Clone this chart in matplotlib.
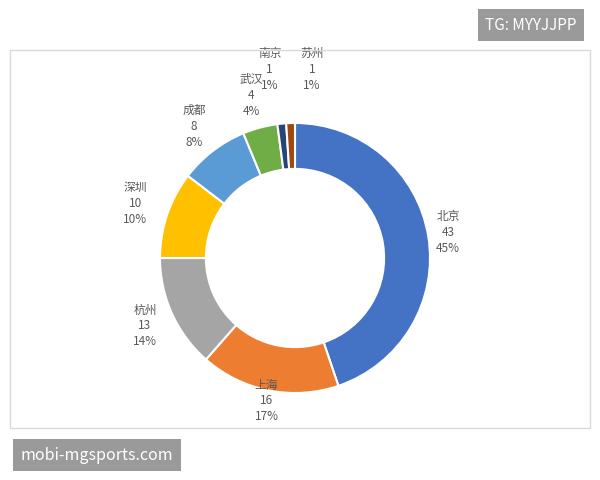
import matplotlib
matplotlib.use("Agg")
import matplotlib.pyplot as plt
import numpy as np

plt.rcParams['font.family'] = ['Noto Sans CJK SC', 'DejaVu Sans']

cities = ['北京', '上海', '杭州', '深圳', '成都', '武汉', '南京', '苏州']
values = [43, 16, 13, 10, 8, 4, 1, 1]
colors = ['#4472C4', '#ED7D31', '#A5A5A5', '#FFC000', '#5B9BD5', '#70AD47', '#264478', '#9E480E']

fig = plt.figure(figsize=(6, 4.8), dpi=100)
fig.patches.append(plt.Rectangle((10/600, 1-428/480), 580/600, 378/480, transform=fig.transFigure,
                                 fill=False, edgecolor='#D9D9D9', lw=1))
R = 135
ax = fig.add_axes([(295-R)/600, 1-(258+R)/480, 2*R/600, 2*R/480])
wedges, _ = ax.pie(values, colors=colors, startangle=90, counterclock=False, radius=1,
                   wedgeprops=dict(width=0.34, edgecolor='white', linewidth=1.5))
ax.set_xlim(-1, 1); ax.set_ylim(-1, 1); ax.set_aspect('equal')
total = sum(values)
radii = [1.15, 1.08, 1.22, 1.25, 1.23, 1.25, 1.4, 1.4]
offs = [0, 0, 0, 0, 0, 0, -0.05, 0.17]
for w, c, v, r, o in zip(wedges, cities, values, radii, offs):
    a = np.deg2rad((w.theta1 + w.theta2) / 2)
    x, y = r*np.cos(a) + o, r*np.sin(a)
    ax.text(x, y, f"{c}\n{v}\n{round(v/total*100)}%", ha='center', va='center',
            fontsize=8.5, color='#595959', linespacing=1.3, clip_on=False)

fig.text(531/600, 1-25/480, 'TG: MYYJJPP', ha='center', va='center', color='white', fontsize=11,
         bbox=dict(boxstyle='square,pad=0.5', fc='#9A9A9A', ec='none'))
fig.text(97/600, 1-455/480, 'mobi-mgsports.com', ha='center', va='center', color='white', fontsize=11.5,
         bbox=dict(boxstyle='square,pad=0.5', fc='#9A9A9A', ec='none'))
fig.savefig('out.png', dpi=100)
